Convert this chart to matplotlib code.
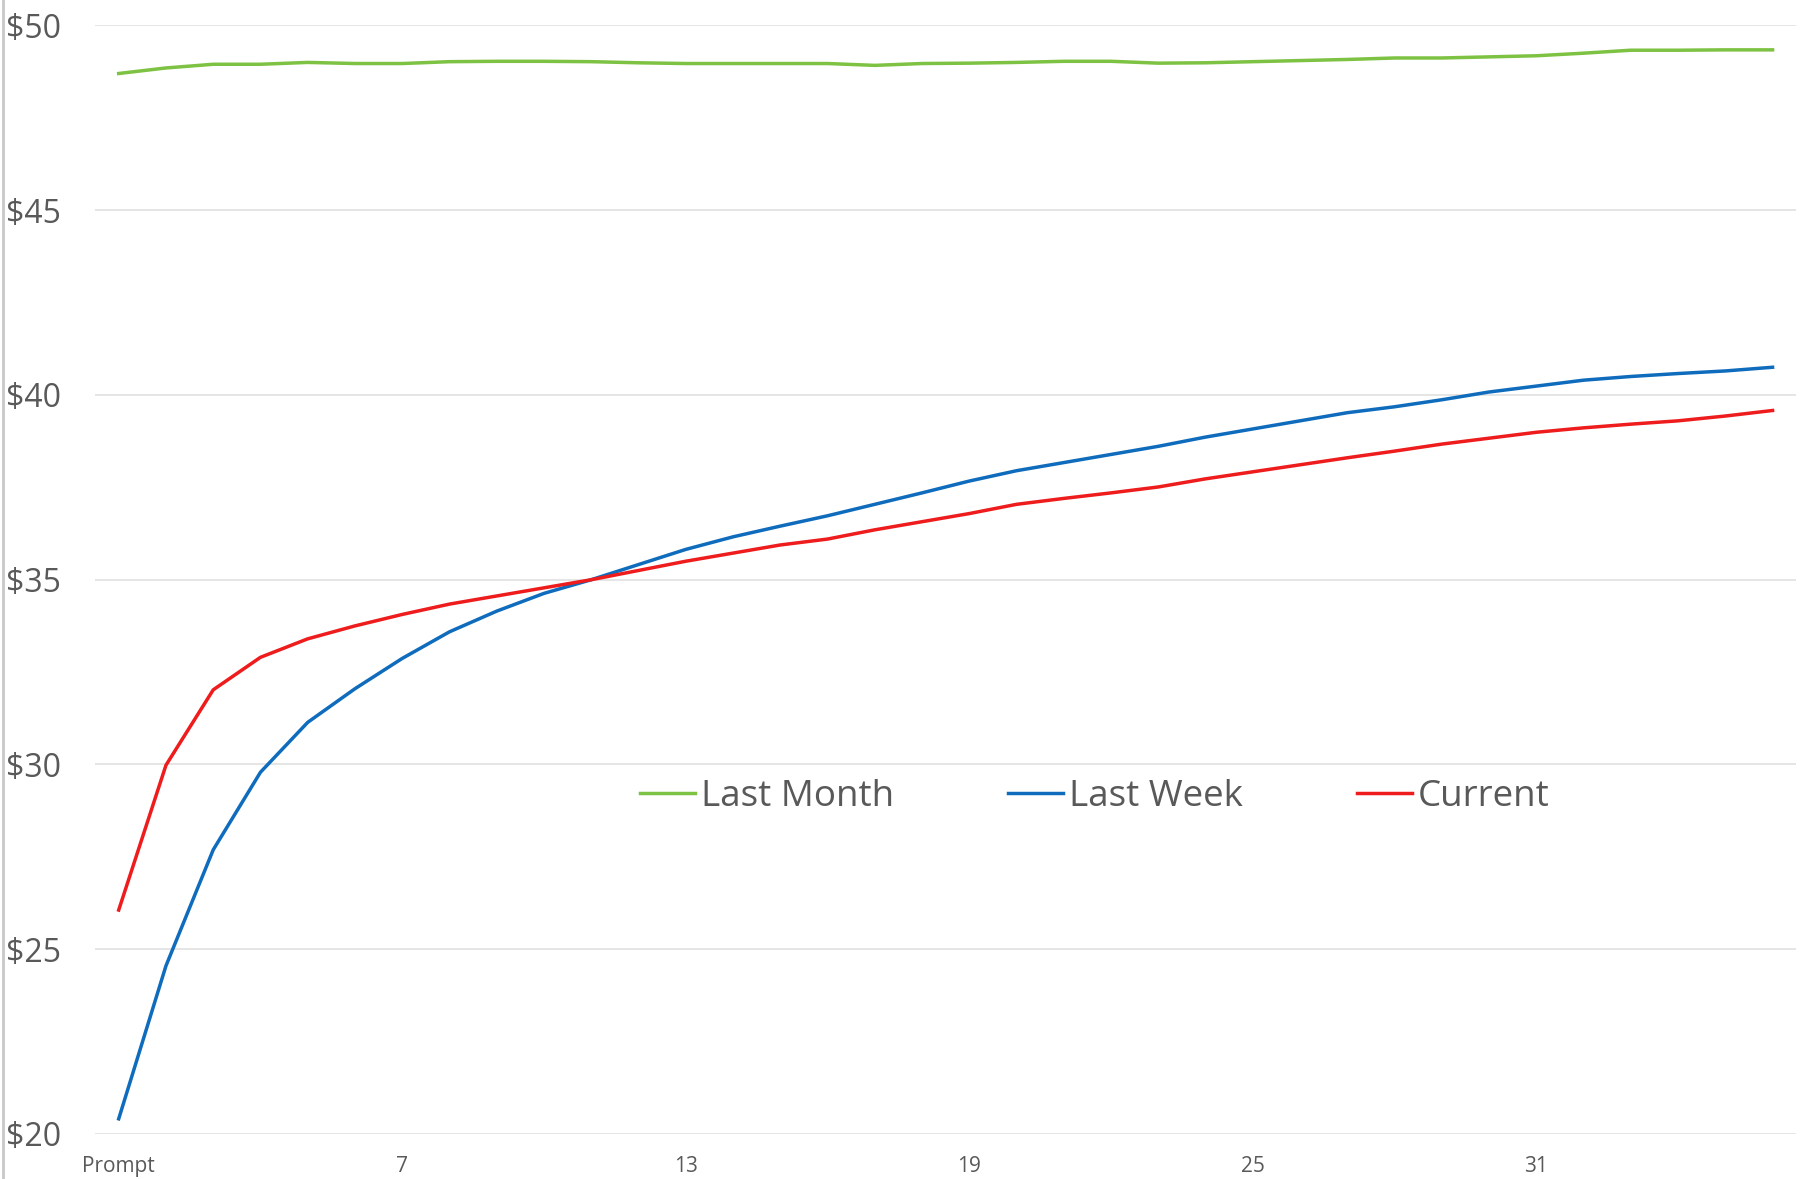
import matplotlib
matplotlib.use("Agg")
import matplotlib.pyplot as plt
from matplotlib.lines import Line2D

plt.rcParams["font.family"] = ["Open Sans", "DejaVu Sans"]

# 36 daily points, first one labelled "Prompt"
days = list(range(1, 37))
tick_pos = [1, 7, 13, 19, 25, 31]
tick_labels = ["Prompt", "7", "13", "19", "25", "31"]

last_month = [48.70, 48.85, 48.95, 48.95, 49.00, 48.97, 48.97, 49.02, 49.03, 49.03,
              49.02, 48.99, 48.97, 48.97, 48.97, 48.97, 48.92, 48.97, 48.98, 49.00,
              49.03, 49.03, 48.98, 48.99, 49.02, 49.05, 49.08, 49.12, 49.12, 49.15,
              49.18, 49.25, 49.33, 49.33, 49.34, 49.34]
last_week = [20.41, 24.55, 27.69, 29.79, 31.14, 32.05, 32.87, 33.59, 34.15, 34.63,
             35.00, 35.41, 35.82, 36.16, 36.45, 36.73, 37.04, 37.35, 37.67, 37.95,
             38.17, 38.39, 38.61, 38.86, 39.08, 39.30, 39.52, 39.68, 39.87, 40.08,
             40.24, 40.40, 40.50, 40.58, 40.65, 40.75]
current = [26.06, 29.98, 32.02, 32.90, 33.40, 33.75, 34.06, 34.34, 34.56, 34.78,
           35.00, 35.25, 35.50, 35.72, 35.94, 36.10, 36.35, 36.57, 36.79, 37.04,
           37.20, 37.35, 37.51, 37.73, 37.92, 38.11, 38.30, 38.48, 38.67, 38.83,
           38.99, 39.11, 39.21, 39.30, 39.43, 39.58]
y_ticks = [20, 25, 30, 35, 40, 45, 50]

fig = plt.figure(figsize=(18.18, 11.79), dpi=100)
ax = fig.add_axes([0.0523, 0.0382, 0.9357, 0.9402])

ax.plot(days, last_month, color="#7dc242", lw=2.5, label="Last Month")
ax.plot(days, last_week, color="#0f6cbd", lw=2.5, label="Last Week")
ax.plot(days, current, color="#ee1c1c", lw=2.5, label="Current")

ax.set_xlim(0.5, 36.5)
ax.set_ylim(20, 50)
ax.set_yticks(y_ticks)
ax.set_yticklabels([f"${v}" for v in y_ticks], fontsize=23, color="#595959")
ax.set_xticks(tick_pos)
ax.set_xticklabels(tick_labels, fontsize=15, color="#595959")
ax.tick_params(axis="y", length=0, pad=24.5)
ax.tick_params(axis="x", length=0, pad=16)
ax.grid(axis="y", color="#e3e3e3", lw=1.3)
ax.set_axisbelow(True)
for s in ax.spines.values():
    s.set_visible(False)

ax.legend(loc="center", bbox_to_anchor=(0.5875, 0.304), ncol=3, frameon=False,
          fontsize=26.5, handlelength=1.5, handletextpad=0.15, columnspacing=3.1,
          labelcolor="#595959")

# thin chart border on the far left
fig.add_artist(Line2D([0.0015, 0.0015], [0, 1], color="#c8c8c8", lw=2,
                      transform=fig.transFigure))

fig.savefig("out.png", dpi=100)
